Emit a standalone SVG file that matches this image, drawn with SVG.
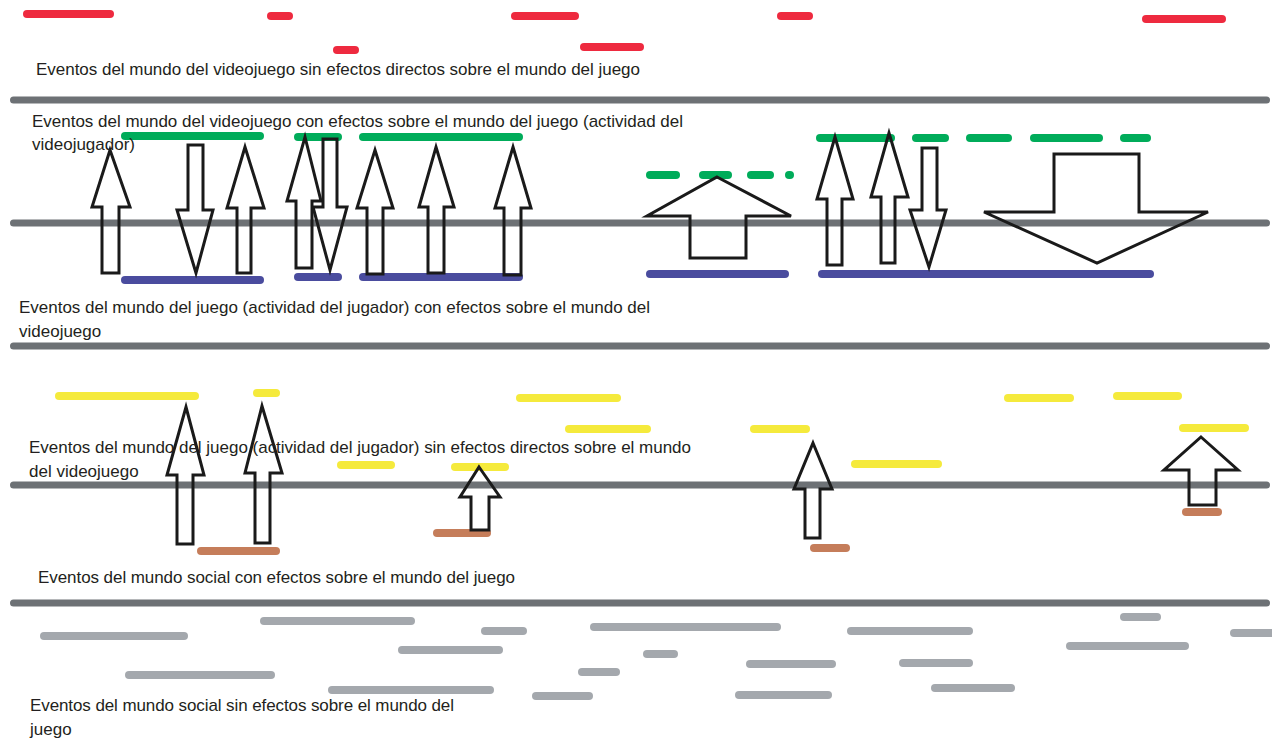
<svg xmlns="http://www.w3.org/2000/svg" width="1272" height="742" viewBox="0 0 1272 742">
  <style>
    .sep{stroke:#6d7175;stroke-width:7;stroke-linecap:round;fill:none}
    .ev{stroke-width:8;stroke-linecap:round;fill:none}
    .red{stroke:#ee2a3f}
    .green{stroke:#00ac5a}
    .blue{stroke:#4a4c9e}
    .yellow{stroke:#f5ea3c}
    .brown{stroke:#c57d5a}
    .soc{stroke:#a4a8ad}
    .arr{fill:none;stroke:#1a1a1a;stroke-width:3;stroke-linejoin:miter}
    .lbl{font-family:"Liberation Sans",Arial,sans-serif;font-size:17px;fill:#231f20}
  </style>
  <rect width="1272" height="742" fill="#ffffff"/>

  <!-- separators between the worlds -->
  <g id="separators">
    <line class="sep" x1="13.5" y1="100" x2="1266.5" y2="100"/>
    <line class="sep" x1="13.5" y1="223" x2="1266.5" y2="223"/>
    <line class="sep" x1="13.5" y1="346" x2="1266.5" y2="346"/>
    <line class="sep" x1="13.5" y1="485" x2="1266.5" y2="485"/>
    <line class="sep" x1="13.5" y1="603" x2="1266.5" y2="603"/>
  </g>

  <!-- videogame events without direct effects -->
  <g id="videogame-events" class="ev red">
    <line x1="27" y1="14" x2="110" y2="14"/>
    <line x1="271" y1="16" x2="289" y2="16"/>
    <line x1="515" y1="16" x2="575" y2="16"/>
    <line x1="337" y1="50" x2="355" y2="50"/>
    <line x1="584" y1="47" x2="640" y2="47"/>
    <line x1="781" y1="16" x2="809" y2="16"/>
    <line x1="1146" y1="19" x2="1222" y2="19"/>
  </g>

  <!-- videogame events with effects on the game -->
  <g id="videogame-effects" class="ev green">
    <line x1="125" y1="136" x2="260" y2="136"/>
    <line x1="298" y1="137" x2="338" y2="137"/>
    <line x1="363" y1="137" x2="519" y2="137"/>
    <line x1="820" y1="138" x2="891" y2="138"/>
    <line x1="916" y1="138" x2="945" y2="138"/>
    <line x1="970" y1="138" x2="1008" y2="138"/>
    <line x1="1034" y1="138" x2="1099" y2="138"/>
    <line x1="1124" y1="138" x2="1147" y2="138"/>
    <line x1="650" y1="175" x2="676" y2="175"/>
    <line x1="703" y1="175" x2="728" y2="175"/>
    <line x1="751" y1="175" x2="770" y2="175"/>
    <line x1="789" y1="175" x2="790" y2="175"/>
  </g>

  <!-- player activity with effects on the videogame -->
  <g id="player-effects" class="ev blue">
    <line x1="125" y1="280" x2="260" y2="280"/>
    <line x1="298" y1="277" x2="338" y2="277"/>
    <line x1="363" y1="277" x2="519" y2="277"/>
    <line x1="650" y1="274" x2="785" y2="274"/>
    <line x1="822" y1="274" x2="1150" y2="274"/>
  </g>

  <!-- player activity without direct effects -->
  <g id="player-events" class="ev yellow">
    <line x1="59" y1="396" x2="195" y2="396"/>
    <line x1="257" y1="393" x2="276" y2="393"/>
    <line x1="520" y1="398" x2="617" y2="398"/>
    <line x1="569" y1="429" x2="647" y2="429"/>
    <line x1="341" y1="465" x2="391" y2="465"/>
    <line x1="455" y1="467" x2="505" y2="467"/>
    <line x1="754" y1="429" x2="806" y2="429"/>
    <line x1="855" y1="464" x2="938" y2="464"/>
    <line x1="1008" y1="398" x2="1070" y2="398"/>
    <line x1="1117" y1="396" x2="1178" y2="396"/>
    <line x1="1183" y1="428" x2="1245" y2="428"/>
  </g>

  <!-- social events with effects on the game -->
  <g id="social-effects" class="ev brown">
    <line x1="201" y1="551" x2="276" y2="551"/>
    <line x1="437" y1="533" x2="487" y2="533"/>
    <line x1="814" y1="548" x2="846" y2="548"/>
    <line x1="1186" y1="512" x2="1218" y2="512"/>
  </g>

  <!-- social events without effects on the game -->
  <g id="social-events" class="ev soc">
    <line x1="44" y1="636" x2="184" y2="636"/>
    <line x1="264" y1="621" x2="411" y2="621"/>
    <line x1="485" y1="631" x2="523" y2="631"/>
    <line x1="594" y1="627" x2="777" y2="627"/>
    <line x1="851" y1="631" x2="969" y2="631"/>
    <line x1="1124" y1="617" x2="1157" y2="617"/>
    <line x1="1234" y1="633" x2="1274" y2="633"/>
    <line x1="402" y1="650" x2="499" y2="650"/>
    <line x1="1070" y1="646" x2="1185" y2="646"/>
    <line x1="129" y1="675" x2="271" y2="675"/>
    <line x1="582" y1="672" x2="616" y2="672"/>
    <line x1="647" y1="654" x2="674" y2="654"/>
    <line x1="750" y1="664" x2="832" y2="664"/>
    <line x1="903" y1="663" x2="969" y2="663"/>
    <line x1="332" y1="690" x2="490" y2="690"/>
    <line x1="536" y1="696" x2="589" y2="696"/>
    <line x1="739" y1="695" x2="828" y2="695"/>
    <line x1="935" y1="688" x2="1011" y2="688"/>
  </g>

  <!-- connectors: block arrows between the worlds -->
  <g id="connectors" class="arr">
    <polygon points="110,150 130,207 119,207 119,273 102,273 102,207 92,207"/>
    <polygon points="188,145 203,145 203,210 213,210 196,273 177,210 188,210"/>
    <polygon points="245,147 264,208 251,208 251,273 237,273 237,208 227,208"/>
    <polygon points="305,137 321,201 312,201 312,268 296,268 296,201 287,201"/>
    <polygon points="323,139 337,139 337,207 347,207 330,270 313,207 323,207"/>
    <polygon points="375,150 393,208 383,208 383,274 367,274 367,208 357,208"/>
    <polygon points="436,147 454,207 444,207 444,273 428,273 428,207 419,207"/>
    <polygon points="513,147 531,208 521,208 521,275 504,275 504,208 495,208"/>
    <polygon points="717,177 791,216 746,216 746,258 690,258 690,216 647,216"/>
    <polygon points="835,137 853,199 842,199 842,265 827,265 827,199 817,199"/>
    <polygon points="889,133 908,197 895,197 895,263 881,263 881,197 871,197"/>
    <polygon points="922,148 937,148 937,210 946,210 929,267 910,210 922,210"/>
    <polygon points="1054,154 1139,154 1139,212 1208,212 1097,263 984,212 1054,212"/>
    <polygon points="186,407 204,475 193,475 193,544 177,544 177,475 167,475"/>
    <polygon points="262,406 282,473 270,473 270,543 255,543 255,473 245,473"/>
    <polygon points="479,467 500,497 489,497 489,530 471,530 471,497 460,497"/>
    <polygon points="813,443 832,489 820,489 820,538 805,538 805,489 794,489"/>
    <polygon points="1201,437 1238,470 1216,470 1216,505 1189,505 1189,470 1164,470"/>
  </g>

  <!-- band labels -->
  <g id="labels" class="lbl">
    <text x="36" y="75" textLength="604" lengthAdjust="spacing">Eventos del mundo del videojuego sin efectos directos sobre el mundo del juego</text>
    <text x="32" y="127" textLength="651" lengthAdjust="spacing">Eventos del mundo del videojuego con efectos sobre el mundo del juego (actividad del</text>
    <text x="32" y="150">videojugador)</text>
    <text x="19" y="313" textLength="631" lengthAdjust="spacing">Eventos del mundo del juego (actividad del jugador) con efectos sobre el mundo del</text>
    <text x="19" y="337">videojuego</text>
    <text x="29" y="453" textLength="662" lengthAdjust="spacing">Eventos del mundo del juego (actividad del jugador) sin efectos directos sobre el mundo</text>
    <text x="29" y="477">del videojuego</text>
    <text x="38" y="583" textLength="477" lengthAdjust="spacing">Eventos del mundo social con efectos sobre el mundo del juego</text>
    <text x="30" y="711" textLength="424" lengthAdjust="spacing">Eventos del mundo social sin efectos sobre el mundo del</text>
    <text x="30" y="735">juego</text>
  </g>
</svg>
